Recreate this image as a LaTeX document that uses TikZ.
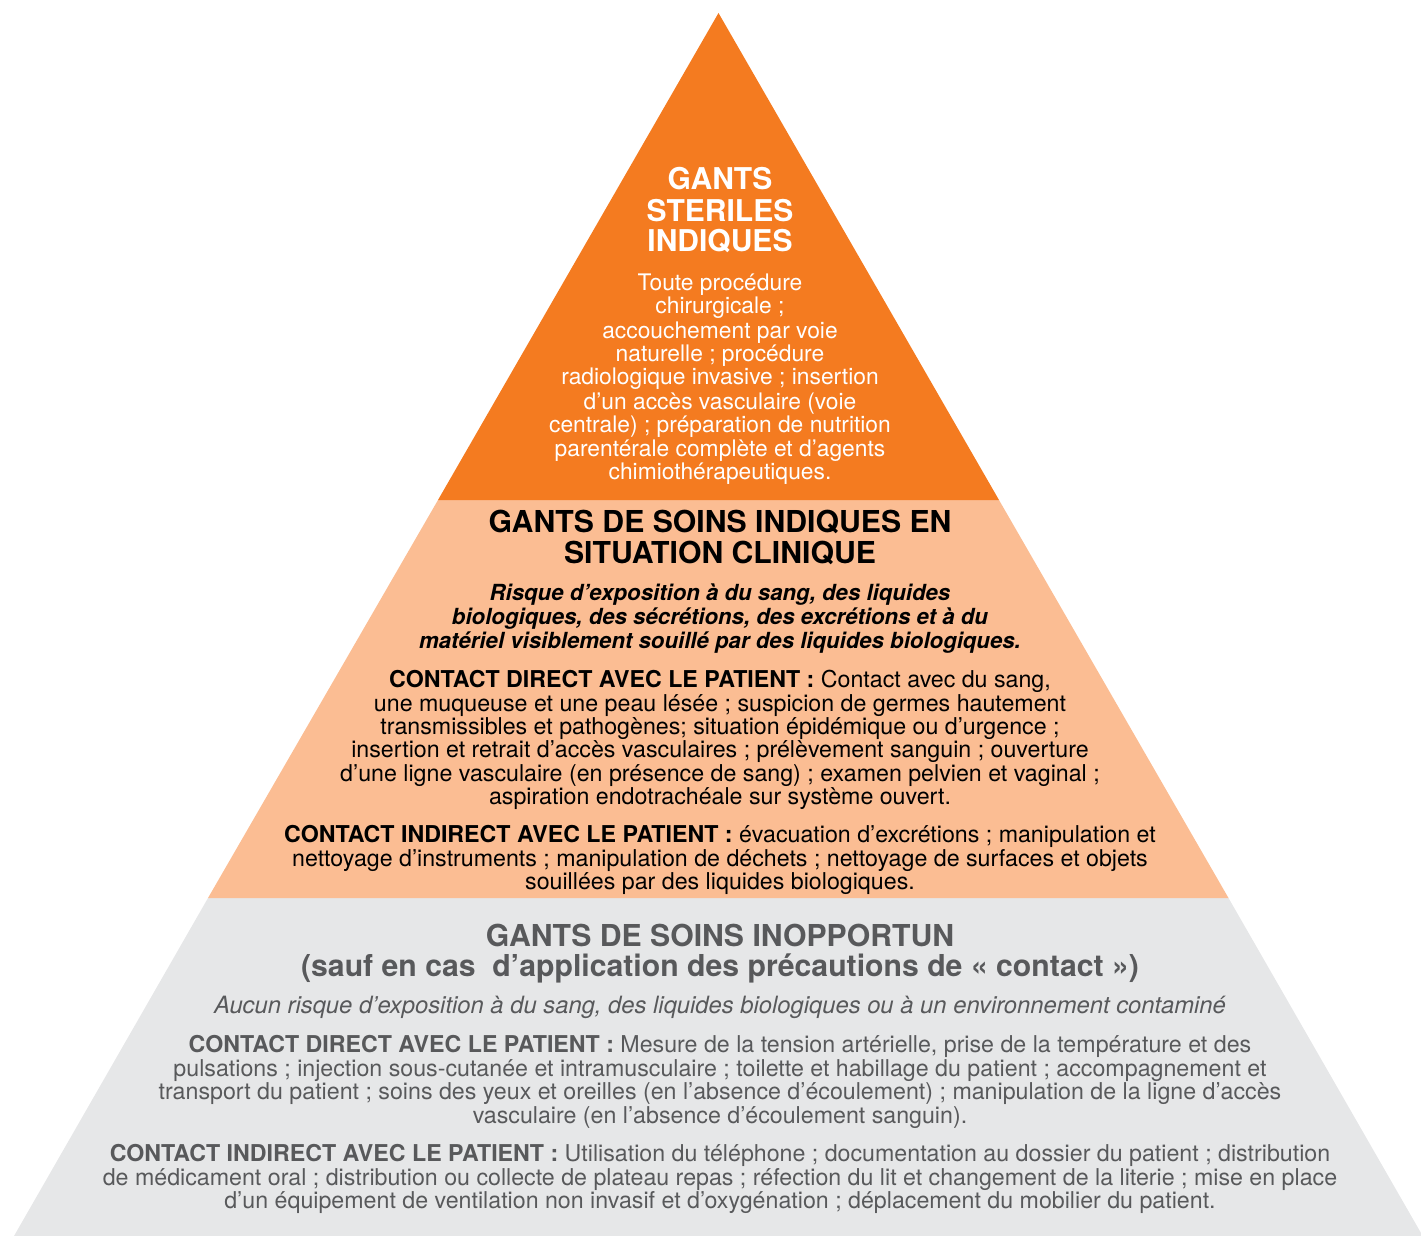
\documentclass[tikz,border=0pt]{standalone}
\usepackage{fontspec}
\setmainfont{TeX Gyre Heros}
\definecolor{orangeband}{HTML}{F47B20}
\definecolor{peachband}{HTML}{FBBD93}
\definecolor{greyband}{HTML}{E6E7E8}
\definecolor{greytext}{HTML}{58595B}
\begin{document}
\begin{tikzpicture}[x=0.5pt,y=-0.5pt,
  ln/.style={anchor=base, inner sep=0pt},
  toptitle/.style={ln, text=white, font=\fontsize{15}{15}\selectfont\bfseries},
  topbody/.style={ln, text=white, font=\fontsize{11.4}{12}\selectfont},
  midtitle/.style={ln, text=black, font=\fontsize{15.1}{15}\selectfont\bfseries},
  miditalic/.style={ln, text=black, font=\fontsize{11.1}{12}\selectfont\bfseries\itshape},
  midbody/.style={ln, text=black, font=\fontsize{11.6}{12}\selectfont},
  bottitle/.style={ln, text=greytext, font=\fontsize{15.1}{15}\selectfont\bfseries},
  botitalic/.style={ln, text=greytext, font=\fontsize{11.9}{12}\selectfont\itshape},
  botbody/.style={ln, text=greytext, font=\fontsize{11.6}{12}\selectfont}]
\useasboundingbox (0,0) rectangle (1421,1236);
% bands
\coordinate (apex) at (718.5,13);
\coordinate (l1) at (438,500);
\coordinate (r1) at (999,500);
\coordinate (l2) at (208,898);
\coordinate (r2) at (1228.5,898);
\coordinate (l3) at (14,1236);
\coordinate (r3) at (1421,1236);
\fill[greyband] (l2) -- (r2) -- (1421,1233) -- (r3) -- (l3) -- cycle;
\fill[peachband] (l1) -- (r1) -- (r2) -- (l2) -- cycle;
\fill[orangeband] (apex) -- (r1) -- (l1) -- cycle;
% top band
\node[toptitle] (t1) at (720,190) {GANTS};
\node[toptitle] (t2) at (720,221) {STERILES};
\node[toptitle] (t3) at (720,252) {INDIQUES};
\node[topbody] (tb1) at (720,291) {Toute procédure};
\node[topbody] (tb2) at (720,314) {chirurgicale ;};
\node[topbody] (tb3) at (720,338) {accouchement par voie};
\node[topbody] (tb4) at (720,361) {naturelle ; procédure};
\node[topbody] (tb5) at (720,385) {radiologique invasive ; insertion};
\node[topbody] (tb6) at (720,409) {d’un accès vasculaire (voie};
\node[topbody] (tb7) at (720,432) {centrale) ; préparation de nutrition};
\node[topbody] (tb8) at (720,456) {parentérale complète et d’agents};
\node[topbody] (tb9) at (720,479) {chimiothérapeutiques.};
% middle band
\node[midtitle] (m1) at (720,532) {GANTS DE SOINS INDIQUES EN};
\node[midtitle] (m2) at (720,563) {SITUATION CLINIQUE};
\node[miditalic] (mi1) at (720,600) {Risque d’exposition à du sang, des liquides};
\node[miditalic] (mi2) at (720,624) {biologiques, des sécrétions, des excrétions et à du};
\node[miditalic] (mi3) at (720,648) {matériel visiblement souillé par des liquides biologiques.};
\node[midbody] (md1) at (720,687) {\textbf{CONTACT DIRECT AVEC LE PATIENT :} Contact avec du sang,};
\node[midbody] (md2) at (720,711) {une muqueuse et une peau lésée ; suspicion de germes hautement};
\node[midbody] (md3) at (720,734) {transmissibles et pathogènes; situation épidémique ou d’urgence ;};
\node[midbody] (md4) at (720,757) {insertion et retrait d’accès vasculaires ; prélèvement sanguin ; ouverture};
\node[midbody] (md5) at (720,781) {d’une ligne vasculaire (en présence de sang) ; examen pelvien et vaginal ;};
\node[midbody] (md6) at (720,804) {aspiration endotrachéale sur système ouvert.};
\node[midbody] (mn1) at (720,842) {\textbf{CONTACT INDIRECT AVEC LE PATIENT :} évacuation d’excrétions ; manipulation et};
\node[midbody] (mn2) at (720,866) {nettoyage d’instruments ; manipulation de déchets ; nettoyage de surfaces et objets};
\node[midbody] (mn3) at (720,889) {souillées par des liquides biologiques.};
% bottom band
\node[bottitle] (b1) at (720,946) {GANTS DE SOINS INOPPORTUN};
\node[bottitle] (b2) at (720,976) {(sauf en cas\ \ d’application des précautions de «~contact~»)};
\node[botitalic] (bi1) at (720,1013) {Aucun risque d’exposition à du sang, des liquides biologiques ou à un environnement contaminé};
\node[botbody] (bd1) at (720,1052) {\textbf{CONTACT DIRECT AVEC LE PATIENT :} Mesure de la tension artérielle, prise de la température et des};
\node[botbody] (bd2) at (720,1076) {pulsations ; injection sous-cutanée et intramusculaire ; toilette et habillage du patient ; accompagnement et};
\node[botbody] (bd3) at (720,1099) {transport du patient ; soins des yeux et oreilles (en l’absence d’écoulement) ; manipulation de la ligne d’accès};
\node[botbody] (bd4) at (720,1123) {vasculaire (en l’absence d’écoulement sanguin).};
\node[botbody] (bn1) at (720,1161) {\textbf{CONTACT INDIRECT AVEC LE PATIENT :} Utilisation du téléphone ; documentation au dossier du patient ; distribution};
\node[botbody] (bn2) at (720,1185) {de médicament oral ; distribution ou collecte de plateau repas ; réfection du lit et changement de la literie ; mise en place};
\node[botbody] (bn3) at (720,1208) {d’un équipement de ventilation non invasif et d’oxygénation ; déplacement du mobilier du patient.};
\end{tikzpicture}
\end{document}
